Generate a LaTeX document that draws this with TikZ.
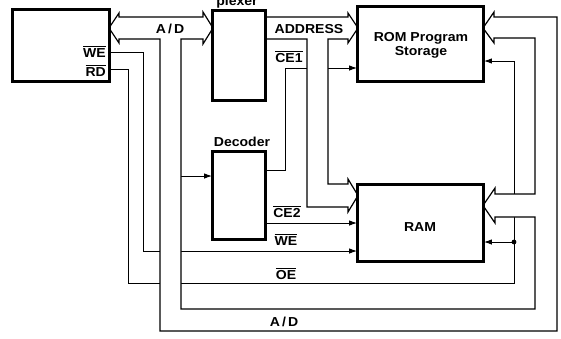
\documentclass[tikz,border=0pt]{standalone}
\usepackage{fontspec}
\setmainfont{Liberation Sans}
\usepackage{graphicx}
\usetikzlibrary{arrows.meta}
\newcommand\mylab[1]{\scalebox{1.08}[1]{#1}}
\newcommand\ovl[1]{$\overline{\mbox{#1}}$}
\begin{document}
\begin{tikzpicture}[x=1pt,y=-1pt,
  box/.style={draw,line width=1.8pt,inner sep=0pt},
  wire/.style={line width=1pt},
  arr/.style={wire,-{Latex[length=8pt,width=5.5pt]}},
  bus/.style={line width=1.2pt,fill=white,line join=miter},
  lbl/.style={font=\fontsize{13}{15}\selectfont\bfseries,inner sep=0pt,anchor=base}]
\clip (0,0) rectangle (561,338);
\fill[white] (0,0) rectangle (561,338);

% boxes (placed first so that anchors exist)
\node[box,minimum width=96pt,minimum height=71pt] (cpu) at (61,45.5) {};
\node[box,minimum width=52pt,minimum height=89pt] (mux) at (239,55.5) {};
\node[box,minimum width=52pt,minimum height=87pt] (dec) at (239,195.5) {};
\node[box,minimum width=125pt,minimum height=74pt] (rom) at (420.5,44) {};
\node[box,minimum width=125pt,minimum height=76pt] (ram) at (420.5,223) {};

% wires
\draw[arr] (cpu.east |- 0,52) -- (143,52) -- (143,251) -- (ram.west |- 0,251);
\draw[arr] (cpu.east |- 0,69) -- (128,69) -- (128,283) -- (514,283) -- (514,61) -- (rom.east |- 0,61);
\coordinate (j) at (514,242);
\draw[arr] (j) -- (ram.east |- j);
\fill (j) circle (2.4);
\draw[arr] (dec.east |- 0,170) -- (285,170) -- (285,68) -- (rom.west |- 0,68);
\draw[arr] (dec.east |- 0,223) -- (ram.west |- 0,223);
\draw[arr] (181,176) -- (dec.west |- 0,176);

% A/D bus
\draw[bus] (119,17) -- (203,17) -- (203,12) -- (213,28) -- (203,44) -- (203,39)
  -- (181,39) -- (181,309) -- (535,309) -- (535,217) -- (495,217) -- (495,223)
  -- (483,205.5) -- (495,188) -- (495,194) -- (535,194) -- (535,38) -- (494,38)
  -- (494,43) -- (483,28) -- (494,12) -- (494,17) -- (557,17) -- (557,331)
  -- (160,331) -- (160,39) -- (119,39) -- (119,43) -- (109,28) -- (119,13) -- cycle;

% ADDRESS bus
\draw[bus] (265,17) -- (348,17) -- (348,13) -- (358,28) -- (348,43) -- (348,39)
  -- (328,39) -- (328,184) -- (348,184) -- (348,179) -- (358,195.5) -- (348,212)
  -- (348,207) -- (307,207) -- (307,39) -- (265,39) -- cycle;

% redraw boxes on top
\draw[line width=1.8pt] (cpu.south west) rectangle (cpu.north east);
\draw[line width=1.8pt] (mux.south west) rectangle (mux.north east);
\draw[line width=1.8pt] (dec.south west) rectangle (dec.north east);
\draw[line width=1.8pt] (rom.south west) rectangle (rom.north east);
\draw[line width=1.8pt] (ram.south west) rectangle (ram.north east);

% labels
\node[lbl,anchor=base east] (lwe1) at (106,57) {\mylab{\ovl{WE}}};
\node[lbl,anchor=base east] (lrd) at (106,76) {\mylab{\ovl{RD}}};
\node[lbl] (lad1) at (170,33) {\mylab{A\kern2pt/\kern2pt D}};
\node[lbl] (lplex) at (237,5) {\mylab{plexer}};
\node[lbl] (laddr) at (309,33) {\mylab{ADDRESS}};
\node[lbl] (lce1) at (289,62) {\mylab{\ovl{CE1}}};
\node[lbl] (lrom1) at (421,41) {\mylab{ROM Program}};
\node[lbl] (lrom2) at (421,55) {\mylab{Storage}};
\node[lbl] (ldec) at (242,146) {\mylab{Decoder}};
\node[lbl] (lce2) at (287,217) {\mylab{\ovl{CE2}}};
\node[lbl] (lwe2) at (286,245) {\mylab{\ovl{WE}}};
\node[lbl] (loe) at (286,279) {\mylab{\ovl{OE}}};
\node[lbl] (lad2) at (284,326) {\mylab{A\kern2pt/\kern2pt D}};
\node[lbl] (lram) at (420,231) {\mylab{RAM}};
\end{tikzpicture}
\end{document}
